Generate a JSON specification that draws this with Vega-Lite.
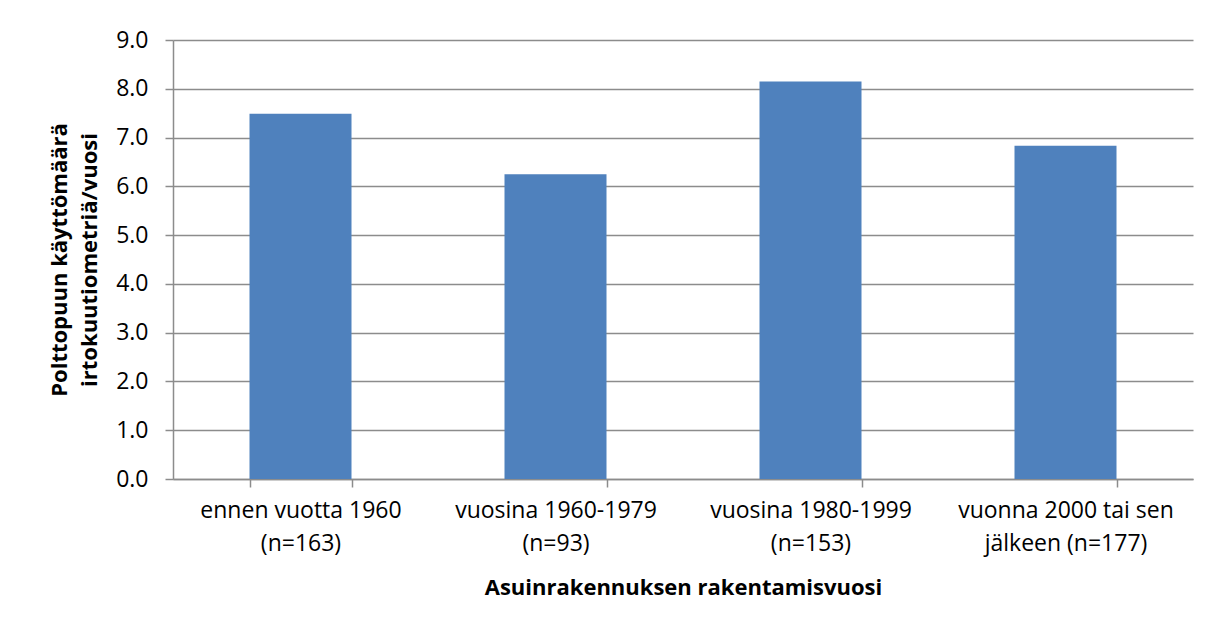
{
  "$schema": "https://vega.github.io/schema/vega-lite/v6.json",
  "width": 1020,
  "height": 439,
  "autosize": "none",
  "padding": {"left": 173, "top": 40, "right": 25, "bottom": 149},
  "background": "white",
  "config": {
    "view": {"stroke": null},
    "font": "Open Sans"
  },
  "data": {
    "values": [
      {"ryhma": "ennen vuotta 1960|(n=163)", "arvo": 7.49},
      {"ryhma": "vuosina 1960-1979|(n=93)", "arvo": 6.25},
      {"ryhma": "vuosina 1980-1999|(n=153)", "arvo": 8.15},
      {"ryhma": "vuonna 2000 tai sen|jälkeen (n=177)", "arvo": 6.83}
    ]
  },
  "mark": {"type": "bar", "color": "#4F81BD"},
  "encoding": {
    "x": {
      "field": "ryhma",
      "type": "nominal",
      "sort": null,
      "scale": {"paddingInner": 0.6, "paddingOuter": 0.3},
      "axis": {
        "title": "Asuinrakennuksen rakentamisvuosi",
        "titleFont": "Open Sans",
        "titleFontSize": 22,
        "titleFontWeight": "bold",
        "titleColor": "#000000",
        "titlePadding": 22,
        "labelExpr": "split(datum.label, '|')",
        "labelAngle": 0,
        "labelFont": "Open Sans",
        "labelFontSize": 23,
        "labelColor": "#000000",
        "labelLineHeight": 33,
        "labelPadding": 12,
        "labelBaseline": "top",
        "labelLimit": 400,
        "tickBand": "extent",
        "tickSize": 8,
        "tickColor": "#8c8c8c",
        "tickWidth": 1.5,
        "domainColor": "#8c8c8c",
        "domainWidth": 1.5,
        "grid": false
      }
    },
    "y": {
      "field": "arvo",
      "type": "quantitative",
      "scale": {"domain": [0, 9], "nice": false},
      "axis": {
        "title": ["Polttopuun käyttömäärä", "irtokuutiometriä/vuosi"],
        "titleFont": "Open Sans",
        "titleFontSize": 22,
        "titleFontWeight": "bold",
        "titleColor": "#000000",
        "titleLineHeight": 30,
        "titlePadding": 14,
        "values": [0, 1, 2, 3, 4, 5, 6, 7, 8, 9],
        "format": ".1f",
        "labelFont": "Open Sans",
        "labelFontSize": 23,
        "labelColor": "#000000",
        "labelPadding": 17,
        "tickSize": 8,
        "tickColor": "#8c8c8c",
        "tickWidth": 1.5,
        "domainColor": "#8c8c8c",
        "domainWidth": 1.5,
        "grid": true,
        "gridColor": "#8c8c8c",
        "gridWidth": 1.5
      }
    }
  }
}
